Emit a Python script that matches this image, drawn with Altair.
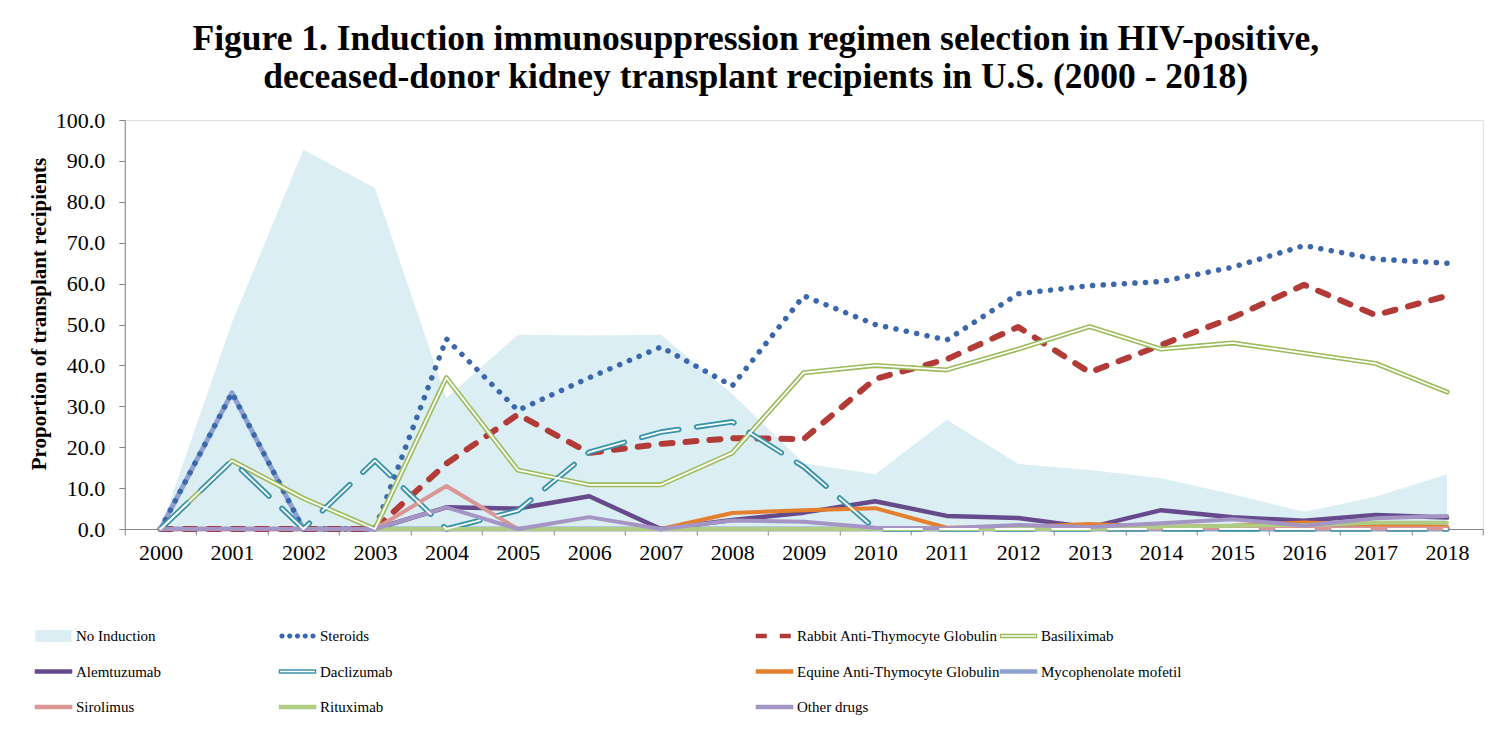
import altair as alt
import pandas as pd

years = [2000, 2001, 2002, 2003, 2004, 2005, 2006, 2007, 2008, 2009,
         2010, 2011, 2012, 2013, 2014, 2015, 2016, 2017, 2018]

no_induction = [0, 50.5, 92.7, 83.4, 32.0, 47.5, 47.3, 47.5, 33.0, 16.1,
                13.4, 26.7, 15.9, 14.4, 12.4, 8.5, 4.2, 7.9, 13.4]
steroids = [0, 33.3, 0, 0, 46.5, 29.0, 37.0, 44.5, 35.0, 57.0,
            50.0, 46.2, 57.5, 59.5, 60.5, 64.0, 69.3, 66.0, 65.0]
rabbit_atg = [0, 0, 0, 0, 16.0, 28.0, 18.6, 20.8, 22.2, 22.0,
              36.7, 41.5, 49.4, 38.3, 45.0, 51.7, 59.7, 52.3, 57.0]
basiliximab = [0, 16.7, 7.5, 0, 37.0, 14.4, 10.8, 10.8, 18.6, 38.2,
               40.0, 38.9, 44.0, 49.5, 44.0, 45.5, 43.0, 40.5, 33.5]
alemtuzumab = [0, 0, 0, 0, 5.3, 5.0, 8.0, 0, 2.2, 4.0,
               6.8, 3.2, 2.7, 0.4, 4.6, 2.9, 2.0, 3.4, 2.8]
daclizumab = [0, 16.7, 0, 16.7, 0, 4.5, 18.8, 23.7, 26.2, 15.2,
              0, 0, 0, 0, 0, 0, 0, 0, 0]
equine_atg = [0, 0, 0, 0, 0, 0, 0, 0, 3.9, 4.6,
              5.1, 0.3, 0.5, 1.2, 0.5, 0.8, 1.6, 1.0, 0.6]
mycophenolate = [0, 33.3, 0, 0, 0, 0, 0, 0, 0, 0,
                 0, 0, 0, 0, 0, 0, 0, 0, 0]
sirolimus = [0, 0, 0, 0, 10.5, 0, 0, 0, 0, 0,
             0, 0, 0.3, 0.2, 0.2, 0.3, 0.2, 0.2, 0.2]
rituximab = [0, 0, 0, 0, 0, 0, 0, 0, 0, 0,
             0, 0, 0, 0, 0.5, 0.8, 1.0, 1.5, 1.5]
other_drugs = [0, 0, 0, 0, 5.3, 0, 2.9, 0, 2.1, 1.8,
               0.3, 0.2, 1.0, 0.5, 1.4, 2.4, 0.8, 2.6, 3.2]

series_values = {
    "No Induction": no_induction,
    "Steroids": steroids,
    "Rabbit Anti-Thymocyte Globulin": rabbit_atg,
    "Basiliximab": basiliximab,
    "Alemtuzumab": alemtuzumab,
    "Daclizumab": daclizumab,
    "Equine Anti-Thymocyte Globulin": equine_atg,
    "Mycophenolate mofetil": mycophenolate,
    "Sirolimus": sirolimus,
    "Rituximab": rituximab,
    "Other drugs": other_drugs,
}

colors = {
    "No Induction": "#DAEEF3",
    "Steroids": "#3B67AD",
    "Rabbit Anti-Thymocyte Globulin": "#B23B38",
    "Basiliximab": "#9BBB59",
    "Alemtuzumab": "#674A8C",
    "Daclizumab": "#3A93AA",
    "Equine Anti-Thymocyte Globulin": "#E47F2E",
    "Mycophenolate mofetil": "#8FA2CF",
    "Sirolimus": "#D99694",
    "Rituximab": "#B0CC84",
    "Other drugs": "#A595C4",
}
dashes = {
    "Steroids": [0.1, 10.5],
    "Rabbit Anti-Thymocyte Globulin": [11, 13],
    "Daclizumab": [38, 18],
}
widths = {
    "Steroids": 5.5,
    "Rabbit Anti-Thymocyte Globulin": 6,
    "Basiliximab": 5,
    "Alemtuzumab": 4.5,
    "Daclizumab": 5.5,
    "Equine Anti-Thymocyte Globulin": 4,
    "Mycophenolate mofetil": 5,
    "Sirolimus": 4,
    "Rituximab": 4,
    "Other drugs": 4,
}

# legend columns (the reference reads row by row across four columns)
legend_columns = [
    ["No Induction", "Alemtuzumab", "Sirolimus"],
    ["Steroids", "Daclizumab", "Rituximab"],
    ["Rabbit Anti-Thymocyte Globulin", "Equine Anti-Thymocyte Globulin", "Other drugs"],
    ["Basiliximab", "Mycophenolate mofetil"],
]
doubles = ["Daclizumab", "Basiliximab"]

rows = []
for name, vals in series_values.items():
    for yr, v in zip(years, vals):
        rows.append({"year": yr, "series": name, "value": v})
df = pd.DataFrame(rows)
empty = df.iloc[0:0]

FONT = "Liberation Serif"
PLOT_W, PLOT_H = 1358, 409

x_enc = alt.X(
    "year:O",
    bandPosition=0.5,
    scale=alt.Scale(type="band", paddingInner=0, paddingOuter=0),
    axis=alt.Axis(
        tickBand="extent",
        labelAngle=0,
        title=None,
        grid=False,
        domainColor="#868686",
        tickColor="#868686",
        tickSize=6,
        labelPadding=7,
        labelFont=FONT,
        labelFontSize=22,
        labelColor="black",
    ),
)
y_enc = alt.Y(
    "value:Q",
    scale=alt.Scale(domain=[0, 100], nice=False),
    axis=alt.Axis(
        values=list(range(0, 101, 10)),
        format=".1f",
        title="Proportion of transplant recipients",
        titleFont=FONT,
        titleFontSize=21,
        titleFontWeight="bold",
        titleColor="black",
        titlePadding=6,
        titleY=PLOT_H / 2 - 11,
        grid=False,
        domainColor="#868686",
        tickColor="#868686",
        tickSize=6,
        labelPadding=14,
        labelFont=FONT,
        labelFontSize=22,
        labelColor="black",
    ),
)

# legend geometry (relative to the plot area's top-left corner)
LEGX = [-88.75, 155.25, 632.25, 876.25]
LEGY0 = 498.5
PITCH = 35.5
LEG_FS = 15


def legend_pos(name):
    for ci, col in enumerate(legend_columns):
        if name in col:
            return LEGX[ci], LEGY0 + col.index(name) * PITCH
    raise KeyError(name)


def entry_legend(name, shape, size, sw, dash=None, show_label=True):
    lx, ly = legend_pos(name)
    kw = dict(
        title=None, orient="none", legendX=lx, legendY=ly, direction="vertical",
        padding=0, symbolType=shape, symbolSize=size, symbolStrokeWidth=sw,
        labelFont=FONT, labelFontSize=LEG_FS, labelColor="black",
        labelOffset=5, labelLimit=400,
    )
    if dash is not None:
        kw["symbolDash"] = dash
    if not show_label:
        kw["labelExpr"] = "''"
    return alt.Legend(**kw)


def single_color(name, rng, legend):
    return alt.Color("series:N", scale=alt.Scale(domain=[name], range=[rng]), legend=legend)


# No Induction area; its legend draws the filled box and the label
area = alt.Chart(df[df.series == "No Induction"]).mark_area().encode(
    x=x_enc, y=y_enc,
    color=single_color("No Induction", colors["No Induction"],
                       entry_legend("No Induction", "M-1.03,-0.343H1.03V0.343H-1.03Z", 1225, 0)),
)

draw_order = ["Mycophenolate mofetil", "Steroids", "Rabbit Anti-Thymocyte Globulin", "Basiliximab",
              "Alemtuzumab", "Daclizumab", "Equine Anti-Thymocyte Globulin",
              "Sirolimus", "Rituximab", "Other drugs"]


def line_layer(name):
    mark_kw = dict(strokeCap="round", strokeJoin="round", strokeWidth=widths[name])
    if name in dashes:
        mark_kw["strokeDash"] = dashes[name]
    if name == "Steroids":
        leg = None
    else:
        leg = entry_legend(name, "M-1.25,0H1.25", 900, 4.5, dash=dashes.get(name))
    return alt.Chart(df[df.series == name]).mark_line(**mark_kw).encode(
        x=x_enc, y=y_enc, color=single_color(name, colors[name], leg)
    )


lines = [line_layer(n) for n in draw_order]

# round dots for the Steroids legend entry (with its label)
dot_centers = [-0.886, -0.443, 0, 0.443, 0.886]
r = 0.149
dots_path = " ".join(
    "M%.3f,0A%.3f,%.3f 0 1,0 %.3f,0A%.3f,%.3f 0 1,0 %.3f,0Z" % (c - r, r, r, c + r, r, r, c - r)
    for c in dot_centers
)
steroid_dots = alt.Chart(empty).mark_area().encode(
    x=x_enc, y=y_enc,
    color=single_color("Steroids", colors["Steroids"],
                       entry_legend("Steroids", dots_path, 1225, 0)),
)


# white core of the double lines (plot and legend)
def inner_layer(name):
    mark_kw = dict(strokeCap="round", strokeJoin="round", strokeWidth=1.8)
    if name in dashes:
        mark_kw["strokeDash"] = dashes[name]
    return alt.Chart(df[df.series == name]).mark_line(**mark_kw).encode(
        x=x_enc, y=y_enc,
        color=single_color(name, "white",
                           entry_legend(name, "M-1.051,0H1.051", 1108.89, 1.6, show_label=False)),
    )


inners = [inner_layer(n) for n in doubles]

chart = alt.layer(area, *lines, steroid_dots, *inners).resolve_scale(
    color="independent"
).properties(
    width=PLOT_W,
    height=PLOT_H,
    padding={"left": 19.75, "top": 13, "right": 10, "bottom": 0},
    title=alt.Title(
        ["Figure 1. Induction immunosuppression regimen selection in HIV-positive,",
         "deceased-donor kidney transplant recipients in U.S. (2000 - 2018)"],
        font=FONT,
        fontSize=35.5,
        fontWeight="bold",
        color="black",
        anchor="middle",
        frame="bounds",
        lineHeight=38,
        offset=14,
    ),
).configure_view(stroke=None).configure(background="white")

chart.save("out.html", embed_options={"renderer": "svg", "actions": False})
